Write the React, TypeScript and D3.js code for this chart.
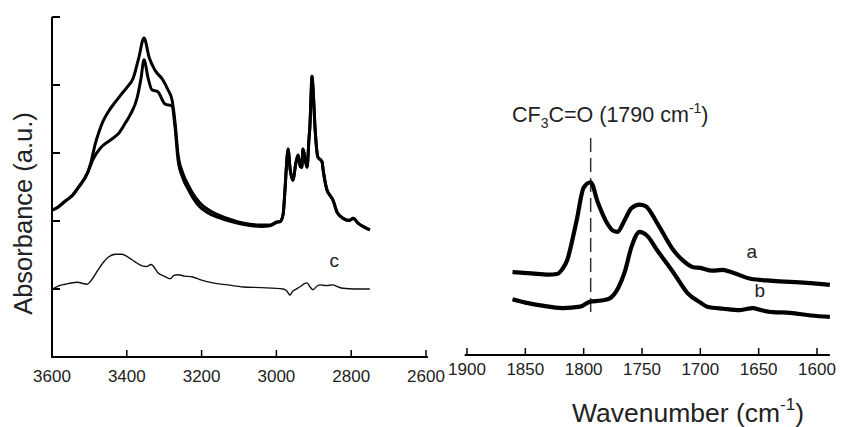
import React from "react";
import * as d3 from "d3";

// ---- Data (wavenumber cm-1, absorbance a.u.) ----
const leftTicksX = [3600, 3400, 3200, 3000, 2800, 2600];
const rightTicksX = [1900, 1850, 1800, 1750, 1700, 1650, 1600];
const leftTicksY = [1, 2, 3, 4, 5];

const chRegion: [number, number][] = [
  [2990, 1.99], [2982, 2.1], [2977, 2.46], [2972, 2.9], [2969, 3.06], [2963, 2.75], [2956, 2.6],
  [2948, 2.85], [2942, 2.97], [2936, 2.8], [2932, 2.79], [2929, 3.06], [2923, 2.9], [2918, 2.79],
  [2913, 3.2], [2910, 3.44], [2907, 3.9], [2905, 4.13], [2902, 3.95], [2897, 3.4], [2889, 2.94],
  [2882, 2.9], [2878, 2.87], [2875, 2.75], [2865, 2.46], [2857, 2.38], [2849, 2.31], [2838, 2.13],
  [2822, 2.04], [2810, 2.01], [2803, 2.01], [2795, 2.04], [2782, 1.97], [2765, 1.91], [2750, 1.87],
];

const seriesA: [number, number][] = [
  [3600, 2.16], [3585, 2.2], [3565, 2.29], [3545, 2.38], [3530, 2.49], [3504, 2.72], [3495, 2.88],
  [3485, 3.12], [3475, 3.3], [3464, 3.46], [3448, 3.62], [3432, 3.74], [3415, 3.86], [3399, 3.97],
  [3383, 4.1], [3368, 4.4], [3354, 4.69], [3340, 4.4], [3325, 4.22], [3303, 4.07], [3290, 3.93],
  [3279, 3.78], [3271, 3.45], [3263, 2.98], [3250, 2.7], [3235, 2.52], [3223, 2.4], [3205, 2.27],
  [3186, 2.18], [3160, 2.1], [3132, 2.04], [3105, 1.99], [3079, 1.96], [3040, 1.94], [3017, 1.94],
  [2998, 1.99],
  ...chRegion,
];

const seriesB: [number, number][] = [
  [3600, 2.16], [3585, 2.2], [3565, 2.29], [3545, 2.38], [3530, 2.49], [3504, 2.72], [3490, 2.91],
  [3471, 3.07], [3444, 3.19], [3420, 3.3], [3404, 3.44], [3391, 3.56], [3372, 3.82], [3362, 4.1],
  [3354, 4.37], [3343, 4.1], [3333, 3.93], [3317, 3.9], [3298, 3.72], [3279, 3.69], [3271, 3.38],
  [3263, 2.9], [3250, 2.63], [3235, 2.46], [3223, 2.34], [3205, 2.21], [3186, 2.13], [3160, 2.06],
  [3132, 2.01], [3105, 1.97], [3079, 1.94], [3040, 1.92], [3017, 1.93], [2998, 1.98],
  ...chRegion,
];

const seriesC: [number, number][] = [
  [3600, 0.99], [3585, 1.04], [3565, 1.07], [3533, 1.1], [3506, 1.07], [3492, 1.15], [3477, 1.28],
  [3463, 1.39], [3449, 1.47], [3430, 1.51], [3413, 1.51], [3397, 1.47], [3378, 1.4], [3359, 1.34],
  [3348, 1.33], [3335, 1.36], [3322, 1.28], [3317, 1.24], [3300, 1.19], [3284, 1.15], [3274, 1.2],
  [3263, 1.21], [3245, 1.19], [3226, 1.18], [3200, 1.13], [3170, 1.09], [3130, 1.06], [3089, 1.03],
  [3040, 1.02], [2982, 1.0], [2972, 0.97], [2964, 0.91], [2956, 0.97], [2950, 0.99], [2935, 1.04],
  [2925, 1.08], [2918, 1.09], [2910, 1.03], [2902, 0.99], [2892, 1.04], [2883, 1.06], [2866, 1.05],
  [2849, 1.06], [2835, 1.03], [2822, 1.01], [2790, 1.0], [2750, 1.0],
];

const seriesRa: [number, number][] = [
  [1861, 1.25], [1845, 1.23], [1830, 1.21], [1823, 1.22], [1818, 1.3], [1814, 1.43], [1810, 1.7],
  [1806, 2.01], [1800, 2.49], [1794, 2.57], [1788, 2.28], [1780, 1.97], [1775, 1.86], [1771, 1.84],
  [1765, 2.01], [1759, 2.19], [1752, 2.24], [1747, 2.22], [1737, 1.97], [1723, 1.57], [1715, 1.42],
  [1706, 1.32], [1700, 1.31], [1690, 1.27], [1681, 1.28], [1672, 1.24], [1657, 1.15], [1638, 1.12],
  [1609, 1.09], [1589, 1.06],
];

const seriesRb: [number, number][] = [
  [1861, 0.85], [1850, 0.8], [1837, 0.76], [1818, 0.72], [1803, 0.74], [1795, 0.81], [1785, 0.83],
  [1778, 0.86], [1770, 1.03], [1765, 1.24], [1759, 1.62], [1752, 1.84], [1746, 1.79], [1737, 1.57],
  [1723, 1.24], [1711, 0.94], [1700, 0.8], [1694, 0.74], [1680, 0.71], [1666, 0.69], [1655, 0.72],
  [1648, 0.69], [1638, 0.66], [1623, 0.65], [1605, 0.61], [1589, 0.59],
];

const markerWavenumber = 1794;

export default function App() {
  const W = 848;
  const H = 427;
  const font = "'Liberation Sans', Arial, sans-serif";

  const xL = d3.scaleLinear().domain([3600, 2600]).range([52, 426]);
  const xR = d3.scaleLinear().domain([1900, 1600]).range([467, 817]);
  const y = d3.scaleLinear().domain([0, 5]).range([357, 17]);

  const lineL = d3
    .line<[number, number]>()
    .x((d) => xL(d[0]))
    .y((d) => y(d[1]))
    .curve(d3.curveMonotoneX);
  const lineR = d3
    .line<[number, number]>()
    .x((d) => xR(d[0]))
    .y((d) => y(d[1]))
    .curve(d3.curveMonotoneX);

  const axisY = y(0);
  const axisYR = y(0) - 2;

  return (
    <svg
      width={W}
      height={H}
      style={{ position: "absolute", left: 0, top: 0, background: "#fff" }}
      fontFamily={font}
    >
      <rect width={W} height={H} fill="#fff" />
      {/* Left panel axes */}
      <line x1={xL(3600)} x2={xL(3600)} y1={y(5)} y2={axisY + 1} stroke="#000" strokeWidth={2} />
      {leftTicksY.map((t) => (
        <line key={t} x1={xL(3600)} x2={xL(3600) + 8} y1={y(t)} y2={y(t)} stroke="#000" strokeWidth={2} />
      ))}
      <line x1={xL(3600) - 1} x2={xL(2595)} y1={axisY} y2={axisY} stroke="#000" strokeWidth={2} />
      {leftTicksX.map((t) => (
        <g key={t}>
          <line x1={xL(t)} x2={xL(t)} y1={axisY} y2={axisY - 7} stroke="#000" strokeWidth={1.5} />
          <text x={xL(t)} y={axisY + 25} textAnchor="middle" fontSize={17} fill="#222">
            {t}
          </text>
        </g>
      ))}

      {/* Right panel axis */}
      <line x1={xR(1902)} x2={xR(1589)} y1={axisYR} y2={axisYR} stroke="#000" strokeWidth={2} />
      {rightTicksX.map((t) => (
        <g key={t}>
          <line x1={xR(t)} x2={xR(t)} y1={axisYR} y2={axisYR - 7} stroke="#000" strokeWidth={1.5} />
          <text x={xR(t)} y={axisYR + 20} textAnchor="middle" fontSize={17} fill="#222">
            {t}
          </text>
        </g>
      ))}

      {/* Left curves */}
      <path d={lineL(seriesA) || ""} fill="none" stroke="#000" strokeWidth={3} strokeLinejoin="round" />
      <path d={lineL(seriesB) || ""} fill="none" stroke="#000" strokeWidth={3} strokeLinejoin="round" />
      <path d={lineL(seriesC) || ""} fill="none" stroke="#111" strokeWidth={1.4} strokeLinejoin="round" />
      <text x={xL(2845)} y={y(1.32)} textAnchor="middle" fontSize={19} fill="#222">
        c
      </text>

      {/* Right curves */}
      <line
        x1={xR(markerWavenumber)}
        x2={xR(markerWavenumber)}
        y1={138}
        y2={315}
        stroke="#333"
        strokeWidth={1.5}
        strokeDasharray="14,6"
      />
      <path d={lineR(seriesRa) || ""} fill="none" stroke="#000" strokeWidth={4.2} strokeLinejoin="round" />
      <path d={lineR(seriesRb) || ""} fill="none" stroke="#000" strokeWidth={4.2} strokeLinejoin="round" />
      <text x={xR(1656)} y={y(1.46)} textAnchor="middle" fontSize={19} fill="#222">
        a
      </text>
      <text x={xR(1649)} y={y(0.88)} textAnchor="middle" fontSize={19} fill="#222">
        b
      </text>
      <text x={512} y={122} fontSize={21.5} fill="#222">
        CF
        <tspan fontSize={14} dy={6}>3</tspan>
        <tspan dy={-6}>C=O (1790 cm</tspan>
        <tspan fontSize={14} dy={-9}>-1</tspan>
        <tspan dy={9}>)</tspan>
      </text>

      {/* Axis titles */}
      <text x={688} y={422} textAnchor="middle" fontSize={26.5} fill="#222">
        Wavenumber (cm
        <tspan fontSize={17} dy={-12}>-1</tspan>
        <tspan dy={12}>)</tspan>
      </text>
      <text
        transform={`translate(32, ${(107 + 320) / 2}) rotate(-90)`}
        textAnchor="middle"
        fontSize={25.5}
        fill="#222"
      >
        Absorbance (a.u.)
      </text>
    </svg>
  );
}
